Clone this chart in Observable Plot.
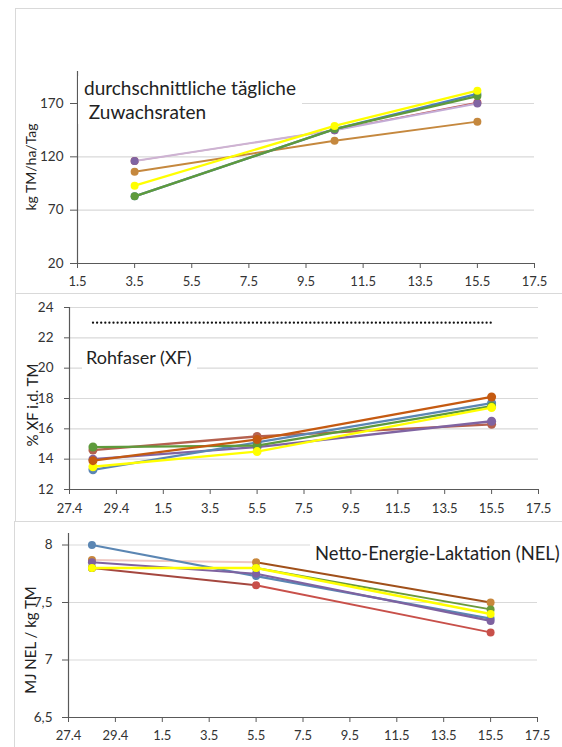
<!DOCTYPE html>
<html><head><meta charset="utf-8">
<script src="https://cdn.jsdelivr.net/npm/d3@7"></script>
<script src="https://cdn.jsdelivr.net/npm/@observablehq/plot@0.6"></script>
<style>
html,body{margin:0;padding:0;background:#fff;}
body{width:562px;height:747px;overflow:hidden;position:relative;font-family:Lato,sans-serif;}
.frame{position:absolute;border:1.5px solid #d9d9d9;box-sizing:border-box;}
.chart{position:absolute;}
.note{position:absolute;background:#fff;color:#222;font-family:Lato,sans-serif;white-space:pre;}
.ylab{position:absolute;color:#222;font-family:Lato,sans-serif;white-space:nowrap;transform:translate(-50%,-50%) rotate(-90deg);}
</style></head><body>
<div class="frame" style="left:15px;top:8px;width:600px;height:286px"></div>
<div class="frame" style="left:15px;top:293px;width:600px;height:229px"></div>
<div class="frame" style="left:14px;top:521px;width:600px;height:240px"></div>
<div id="c1" class="chart" style="left:15px;top:8px"></div>
<div id="c2" class="chart" style="left:15px;top:293px"></div>
<div id="c3" class="chart" style="left:15px;top:521px"></div>
<div class="note" style="left:78px;top:76px;padding:0 6px;font-size:19px;line-height:24px">durchschnittliche tägliche
 Zuwachsraten</div>
<div class="note" style="left:82px;top:345px;padding:0 5px 4px 4px;font-size:18px;line-height:24px">Rohfaser (XF)</div>
<div class="note" style="left:310px;top:541px;padding:0 5px 2px 5px;font-size:18.4px;line-height:24px">Netto-Energie-Laktation (NEL)</div>
<div class="ylab" style="left:30px;top:167px;font-size:14px">kg TM/ha/Tag</div>
<div class="ylab" style="left:32px;top:405px;font-size:15px">% XF i.d. TM</div>
<div class="ylab" style="left:30px;top:640px;font-size:15px">MJ NEL / kg TM</div>
<script>
// ---------- data ----------
const growthDates = ["3.5", "10.5", "15.5"];
const qualityDates = ["28.4", "5.5", "15.5"];
const limitDates = ["28.4", "15.5"];

const growthXTicks = ["1.5", "3.5", "5.5", "7.5", "9.5", "11.5", "13.5", "15.5", "17.5"];
const qualityXTicks = ["27.4", "29.4", "1.5", "3.5", "5.5", "7.5", "9.5", "11.5", "13.5", "15.5", "17.5"];

const growthYTicks = [20, 70, 120, 170];
const fiberYTicks = [12, 14, 16, 18, 20, 22, 24];
const nelYTicks = [6.5, 7, 7.5, 8];

// Zuwachsraten (kg TM/ha/Tag)
const growthRed = [116, 145, 171];
const growthPurple = [116, 145, 170];
const growthBrown = [106, 135, 153];
const growthBlue = [83, 146, 179];
const growthGreen = [83, 146, 177];
const growthYellow = [93, 149, 182];

// Rohfaser (% XF i.d. TM)
const fiberRedBrown = [14.6, 15.5, 16.3];
const fiberPurple = [14.0, 14.8, 16.5];
const fiberBlue = [13.3, 15.1, 17.7];
const fiberGreen = [14.8, 14.9, 17.5];
const fiberYellow = [13.5, 14.5, 17.4];
const fiberRust = [13.9, 15.3, 18.1];
const fiberLimit = [23, 23];

// NEL (MJ NEL / kg TM)
const nelRed = [7.80, 7.65, 7.24];
const nelBlue = [8.0, 7.73, 7.36];
const nelPurple = [7.85, 7.75, 7.34];
const nelBrown = [7.87, 7.85, 7.50];
const nelGreen = [7.80, 7.80, 7.44];
const nelYellow = [7.80, 7.80, 7.40];

// ---------- styles ----------
const growthSeries = [
  {values: growthRed, seg: ["#d9a3a8", "#c0504d"], dot: "#c0504d", w: 1.2},
  {values: growthPurple, seg: ["#cdb3d3", "#c4acd6"], dot: "#8064a2", w: 2},
  {values: growthBrown, seg: ["#c5883e", "#c5883e"], dot: "#c5883e", w: 2},
  {values: growthBlue, seg: ["#4f81bd", "#4f81bd"], dot: "#4f81bd", w: 2.3},
  {values: growthGreen, seg: ["#5e9a3c", "#5e9a3c"], dot: "#5e9a3c", w: 2.3},
  {values: growthYellow, seg: ["#ffff00", "#ffff00"], dot: "#ffff00", w: 2.3}
];
const fiberSeries = [
  {values: fiberRedBrown, seg: ["#b5614f", "#b5614f"], dot: "#b5614f", w: 2.3},
  {values: fiberPurple, seg: ["#8064a2", "#8064a2"], dot: "#8064a2", w: 2.3},
  {values: fiberBlue, seg: ["#5b86b3", "#5b86b3"], dot: "#5b86b3", w: 2.3},
  {values: fiberGreen, seg: ["#5e9a3c", "#5e9a3c"], dot: "#5e9a3c", w: 2.3},
  {values: fiberYellow, seg: ["#ffff00", "#ffff00"], dot: "#ffff00", w: 2.3},
  {values: fiberRust, seg: ["#c55a11", "#c55a11"], dot: "#c55a11", w: 2.3}
];
const nelSeries = [
  {values: nelRed, seg: ["#a5473f", "#c8504a"], dot: "#c8504a", w: 1.8},
  {values: nelBrown, seg: ["#efc8c2", "#a0501a"], dot: "#c8873c", w: 2},
  {values: nelBlue, seg: ["#5b86b3", "#5b86b3"], dot: "#5b86b3", w: 2.2},
  {values: nelPurple, seg: ["#7e62a0", "#7e62a0"], dot: "#7e62a0", w: 2.2},
  {values: nelGreen, seg: ["#6a9a3a", "#6a9a3a"], dot: "#6a9a3a", w: 1.8},
  {values: nelYellow, seg: ["#ffff00", "#ffff00"], dot: "#ffff00", w: 2.3}
];

const parseDM = s => { const [d, m] = s.split(".").map(Number); return new Date(Date.UTC(2021, m - 1, d)); };
const fmtDM = d3.utcFormat("%-d.%-m");

function seriesMarks(series, dates, r) {
  const xs = dates.map(parseDM);
  return series.flatMap((s, k) => {
    const rows = s.values.map((v, i) => ({date: xs[i], value: v}));
    const segs = rows.slice(1).map((p, i) => ({x1: rows[i].date, y1: rows[i].value, x2: p.date, y2: p.value, c: s.seg[i]}));
    return [
      Plot.link(segs, {x1: "x1", y1: "y1", x2: "x2", y2: "y2", stroke: "c", strokeWidth: s.w}),
      Plot.dot(rows, {x: "date", y: "value", r, fill: s.dot, stroke: "none"})
    ];
  });
}

function panel(el, o) {
  const xTicks = o.xTicks.map(parseDM);
  const chart = Plot.plot({
    width: o.width, height: o.height,
    marginLeft: o.ml, marginRight: o.mr, marginTop: o.mt, marginBottom: o.mb,
    style: {fontFamily: "Lato, sans-serif", fontSize: "13px", background: "transparent", color: "#333"},
    x: {type: "utc", domain: [xTicks[0], xTicks[xTicks.length - 1]]},
    y: {domain: o.yDomain},
    color: {type: "identity"},
    marks: [
      Plot.gridY(o.yTicks.slice(1), {stroke: "#d9d9d9", strokeOpacity: 1, strokeWidth: 1.2}),
      ...(o.extra || []),
      ...seriesMarks(o.series, o.dates, o.r),
      Plot.ruleY([o.yDomain[0]], {stroke: "#595959", strokeWidth: 1.2}),
      Plot.ruleX([xTicks[0]], {stroke: "#595959", strokeWidth: 1.2}),
      Plot.axisX(xTicks, {tickFormat: fmtDM, tickSize: 5, tickPadding: o.xPad, label: null, stroke: "#595959", fill: "#333", fontSize: 13}),
      Plot.axisY(o.yTicks, {tickFormat: o.yFormat, tickSize: o.ySize, tickPadding: o.yPad, label: null, stroke: "#595959", fill: "#333", fontSize: 13.5})
    ]
  });
  document.getElementById(el).append(chart);
}

panel("c1", {
  width: 547, height: 285, ml: 62, mr: 28, mt: 63, mb: 30,
  xTicks: growthXTicks, yTicks: growthYTicks, yDomain: [20, 200],
  yFormat: d => String(d), series: growthSeries, dates: growthDates, r: 4,
  xPad: 8, ySize: 7, yPad: 7
});

panel("c2", {
  width: 547, height: 228, ml: 54, mr: 24, mt: 14, mb: 32,
  xTicks: qualityXTicks, yTicks: fiberYTicks, yDomain: [12, 24],
  yFormat: d => String(d), series: fiberSeries, dates: qualityDates, r: 4.5,
  xPad: 9, ySize: 5, yPad: 11,
  extra: [Plot.lineY(limitDates.map((d, i) => ({date: parseDM(d), value: fiberLimit[i]})), {x: "date", y: "value", stroke: "#111", strokeWidth: 2.2, strokeDasharray: "0.1,4", strokeLinecap: "round"})]
});

panel("c3", {
  width: 547, height: 226, ml: 53, mr: 25, mt: 12, mb: 30,
  xTicks: qualityXTicks, yTicks: nelYTicks, yDomain: [6.5, 8.1],
  yFormat: d => String(d).replace(".", ","), series: nelSeries, dates: qualityDates, r: 4,
  xPad: 8, ySize: 6, yPad: 10
});
</script>
</body></html>
